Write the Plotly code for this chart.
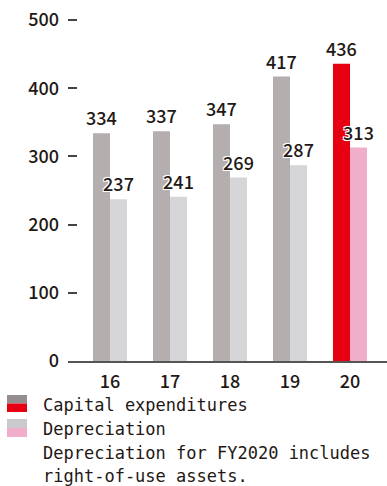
import plotly.graph_objects as go

# Fiscal years (short form) and values (100 million yen)
years = ["16", "17", "18", "19", "20"]
capex = [334, 337, 347, 417, 436]
depreciation = [237, 241, 269, 287, 313]

capex_colors = ["#b4aeae", "#b4aeae", "#b4aeae", "#b4aeae", "#e60012"]
dep_colors = ["#d6d6d9", "#d6d6d9", "#d6d6d9", "#d6d6d9", "#f1aecb"]

y_ticks = [0, 100, 200, 300, 400, 500]

legend_lines = ["Capital expenditures", "Depreciation",
                "Depreciation for FY2020 includes", "right-of-use assets."]

W, H = 387, 486
ML, MR, MT, MB = 68, 0, 10, 125
PW, PH = W - ML - MR, H - MT - MB

TEXT = "#231815"
HALO = "-1px -1px 0 #fff, 1px -1px 0 #fff, -1px 1px 0 #fff, 1px 1px 0 #fff, 0 0 2px #fff"
num_font = dict(family="Noto Sans CJK JP", size=18, weight=500, color=TEXT)


def px_to_paper(x, y):
    return (x - ML) / PW, (H - MB - y) / PH


fig = go.Figure()
fig.add_trace(go.Bar(
    x=years, y=capex, marker=dict(color=capex_colors, line=dict(width=0)),
    text=[str(v) for v in capex], textposition="outside", constraintext="none",
    textfont=dict(**num_font, shadow=HALO), cliponaxis=False,
    name=legend_lines[0], showlegend=False,
))
fig.add_trace(go.Bar(
    x=years, y=depreciation, marker=dict(color=dep_colors, line=dict(width=0)),
    text=[str(v) for v in depreciation], textposition="outside", constraintext="none",
    textfont=dict(**num_font, shadow=HALO), cliponaxis=False,
    name=legend_lines[1], showlegend=False,
))

# Custom legend swatches (two-tone: regular years / FY2020)
swatches = [("#948e8e", "#e60012", 395, 412), ("#cacace", "#f1aecb", 419, 437)]
shapes = []
for top_c, bot_c, y0, y1 in swatches:
    ym = (y0 + y1) / 2
    for c, a, b in [(top_c, y0, ym), (bot_c, ym, y1)]:
        xa, ya = px_to_paper(7, a)
        xb, yb = px_to_paper(27, b)
        shapes.append(dict(type="rect", xref="paper", yref="paper",
                           x0=xa, x1=xb, y0=yb, y1=ya,
                           fillcolor=c, line=dict(width=0), layer="above"))

annotations = []
for txt, yc in zip(legend_lines, [405, 429, 453, 476]):
    xa, ya = px_to_paper(41, yc)
    annotations.append(dict(text=txt, xref="paper", yref="paper", x=xa, y=ya,
                            xanchor="left", yanchor="middle", showarrow=False,
                            font=dict(family="DejaVu Sans Mono", size=17, color=TEXT)))

fig.update_layout(
    width=W, height=H,
    margin=dict(l=ML, r=MR, t=MT, b=MB, pad=0),
    paper_bgcolor="white", plot_bgcolor="white",
    barmode="group", bargap=0.433, bargroupgap=0,
    uniformtext=dict(mode=False),
    shapes=shapes, annotations=annotations,
    xaxis=dict(type="category", range=[-0.7, -0.7 + PW / 60],
               showline=True, linecolor="#555", linewidth=1.5,
               showgrid=False, zeroline=False, ticks="",
               tickfont=num_font, ticklabelstandoff=4),
    yaxis=dict(range=[0, PH / 0.682], tickvals=y_ticks,
               ticktext=[str(v) for v in y_ticks],
               showline=False, showgrid=False, zeroline=False,
               ticks="inside", ticklen=9, tickwidth=1.5, tickcolor="#444",
               tickfont=num_font, ticklabelstandoff=8),
    showlegend=False,
)

fig.write_html("out.html")
